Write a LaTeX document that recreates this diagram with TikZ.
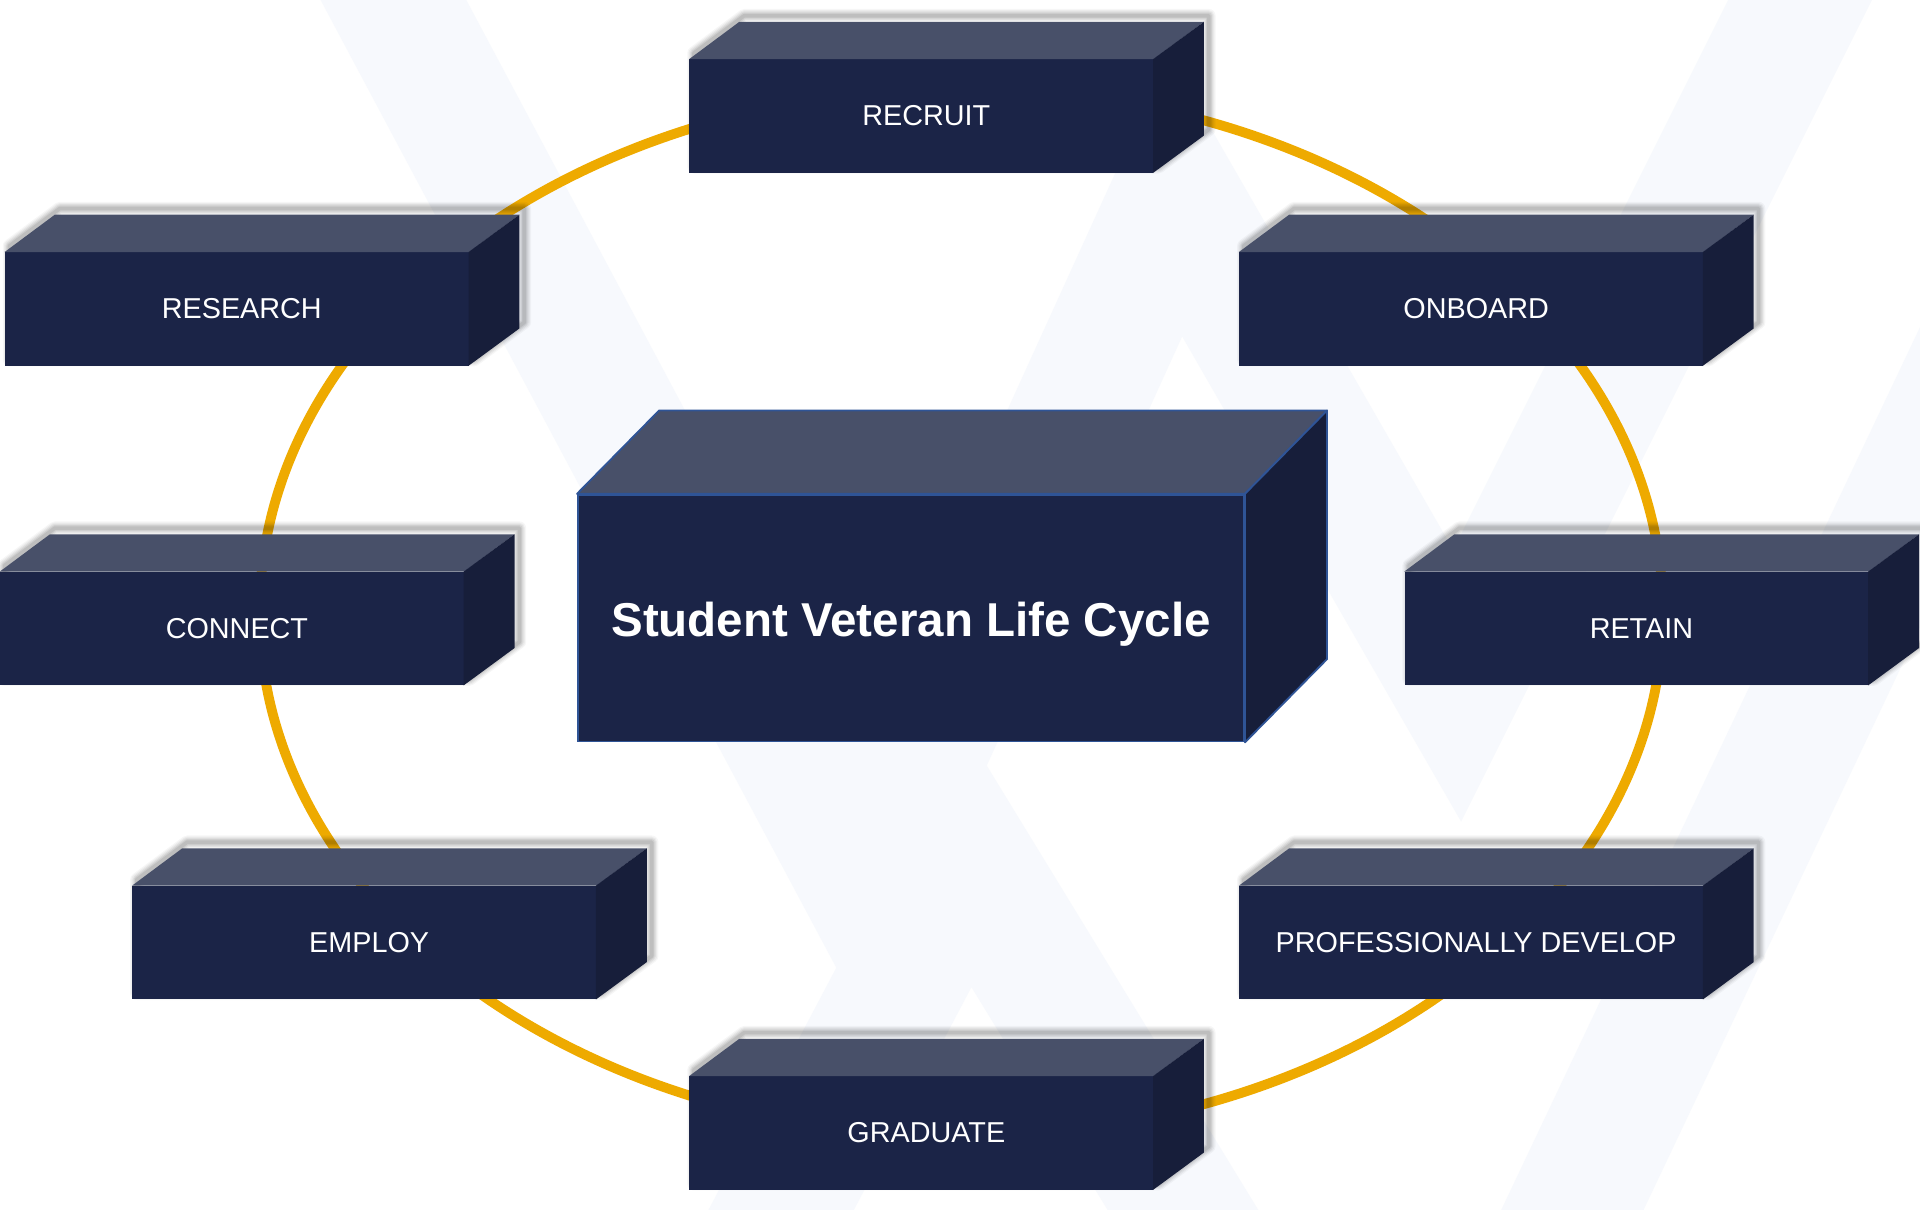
\documentclass[tikz,border=0pt]{standalone}
\usepackage{fontspec}
\setmainfont{Liberation Sans}
\definecolor{frontcol}{RGB}{27,36,71}
\definecolor{topcol}{RGB}{72,80,105}
\definecolor{sidecol}{RGB}{23,30,58}
\definecolor{ringcol}{RGB}{238,170,0}
\definecolor{edgecol}{RGB}{47,84,150}
\definecolor{stripecol}{RGB}{247,249,253}
\pgfdeclarelayer{stripes}
\pgfdeclarelayer{ringlayer}
\pgfdeclarelayer{shadowlayer}
\pgfsetlayers{stripes,ringlayer,shadowlayer,main}
\tikzset{
  smallfront/.style={fill=frontcol, draw=none, inner sep=0pt, minimum width=379pt,
    minimum height=92.5pt, text=white, font=\fontsize{23.5}{28}\selectfont},
  bigfront/.style={fill=frontcol, draw=edgecol, line width=1.5pt, inner sep=0pt,
    minimum width=544pt, minimum height=201.5pt, text=white, text height=30pt, text depth=0pt,
    font=\bfseries\fontsize{38.8}{46}\selectfont},
  topface/.style={fill=topcol},
  sideface/.style={fill=sidecol},
  ringline/.style={draw=ringcol, line width=8pt},
  stripe/.style={draw=stripecol, line width=105pt, line join=miter},
}
\newcommand{\lifecube}[4]{%
  \node[smallfront] (#1) at (#2,#3) {\hspace*{8pt}#4};
  \fill[topface] (#1.north west) -- ++(41,-30.5) -- ([shift={(41,-30.5)}]#1.north east) -- (#1.north east) -- cycle;
  \fill[sideface] ([xshift=-0.5pt]#1.north east) -- ++(41.5,-30.5) -- ([shift={(41,-30.5)}]#1.south east) -- ([xshift=-0.5pt]#1.south east) -- cycle;
  \begin{pgfonlayer}{shadowlayer}
    \foreach \w/\o in {11/0.035,9/0.045,7/0.055,5/0.065,3/0.08}{
      \draw[black, draw opacity=\o, line width=\w pt, line join=round]
        ([shift={(4,-5)}]#1.south west) -- ([shift={(4,-5)}]#1.north west)
        -- ([shift={(45,-35.5)}]#1.north west) -- ([shift={(45,-35.5)}]#1.north east)
        -- ([shift={(45,-35.5)}]#1.south east) -- ([shift={(4,-5)}]#1.south east) -- cycle;
    }
  \end{pgfonlayer}
}
\begin{document}
\begin{tikzpicture}[x=1pt,y=-1pt]
\useasboundingbox (0,0) rectangle (1568,988);
\begin{pgfonlayer}{stripes}
  \fill[white] (0,0) rectangle (1568,988);
  \clip (0,0) rectangle (1568,988);
  \draw[stripe] (300,-40) -- (705,720) -- (960,160) -- (1190,560) -- (1500,-60);
  \draw[stripe] (600,1060) -- (790,700) -- (1010,1060);
  \draw[stripe] (1250,1060) -- (1620,280);
\end{pgfonlayer}
\begin{pgfonlayer}{ringlayer}
  \draw[ringline] (785,500) ellipse [x radius=573pt, y radius=428pt];
\end{pgfonlayer}

\lifecube{recruit}{752.5}{94.75}{RECRUIT}
\lifecube{research}{193.5}{252.25}{RESEARCH}
\lifecube{onboard}{1201.5}{252.25}{ONBOARD}
\lifecube{connect}{189.5}{513.25}{CONNECT}
\lifecube{retain}{1336.5}{513.25}{RETAIN}
\lifecube{employ}{297.5}{769.75}{EMPLOY}
\lifecube{develop}{1201.5}{769.75}{PROFESSIONALLY DEVELOP}
\lifecube{graduate}{752.5}{925.25}{GRADUATE}

\node[bigfront] (core) at (744,504.75) {Student Veteran Life Cycle};
\filldraw[topface, draw=edgecol, line width=1.5pt, line join=round] (core.north west) -- ++(67,-68) -- ([shift={(67,-68)}]core.north east) -- (core.north east) -- cycle;
\filldraw[sideface, draw=edgecol, line width=1.5pt, line join=round] (core.north east) -- ++(67,-68) -- ([shift={(67,-68)}]core.south east) -- (core.south east) -- cycle;
\end{tikzpicture}
\end{document}
